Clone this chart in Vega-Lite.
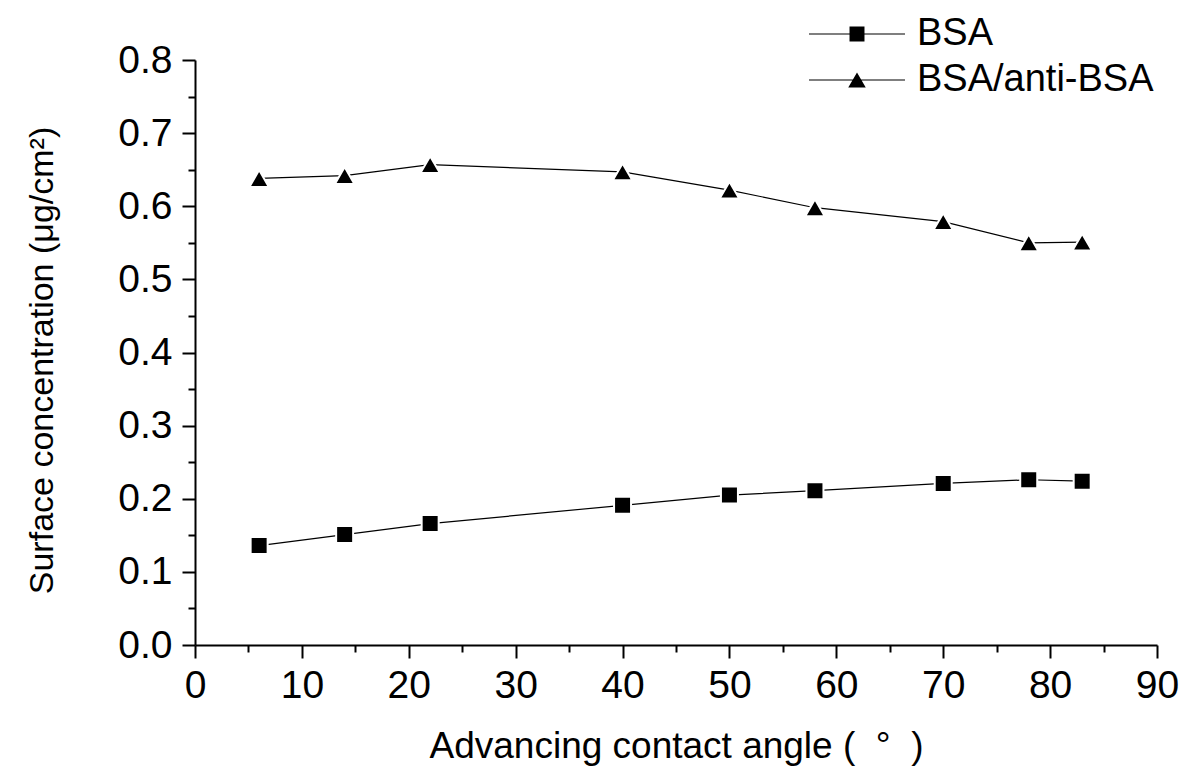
{
  "$schema": "https://vega.github.io/schema/vega-lite/v6.json",
  "width": 962,
  "height": 585,
  "autosize": {"type": "none"},
  "padding": {"left": 195, "top": 60, "right": 23, "bottom": 121},
  "background": "white",
  "config": {
    "font": "Liberation Sans",
    "view": {"stroke": null},
    "axis": {
      "grid": false,
      "domainColor": "black",
      "tickColor": "black",
      "labelColor": "black",
      "titleColor": "black",
      "domainWidth": 2,
      "tickWidth": 2,
      "labelFont": "Liberation Sans",
      "titleFont": "Liberation Sans",
      "titleFontWeight": "normal"
    }
  },
  "data": {
    "values": [
      {"series": "BSA", "angle": 6, "conc": 0.136},
      {"series": "BSA", "angle": 14, "conc": 0.151},
      {"series": "BSA", "angle": 22, "conc": 0.166},
      {"series": "BSA", "angle": 40, "conc": 0.191},
      {"series": "BSA", "angle": 50, "conc": 0.205},
      {"series": "BSA", "angle": 58, "conc": 0.211},
      {"series": "BSA", "angle": 70, "conc": 0.221},
      {"series": "BSA", "angle": 78, "conc": 0.226},
      {"series": "BSA", "angle": 83, "conc": 0.224},
      {"series": "BSA/anti-BSA", "angle": 6, "conc": 0.638},
      {"series": "BSA/anti-BSA", "angle": 14, "conc": 0.642},
      {"series": "BSA/anti-BSA", "angle": 22, "conc": 0.657},
      {"series": "BSA/anti-BSA", "angle": 40, "conc": 0.647},
      {"series": "BSA/anti-BSA", "angle": 50, "conc": 0.622},
      {"series": "BSA/anti-BSA", "angle": 58, "conc": 0.598},
      {"series": "BSA/anti-BSA", "angle": 70, "conc": 0.579},
      {"series": "BSA/anti-BSA", "angle": 78, "conc": 0.550},
      {"series": "BSA/anti-BSA", "angle": 83, "conc": 0.551}
    ]
  },
  "layer": [
    {
      "mark": {"type": "line", "color": "black", "strokeWidth": 1.2},
      "encoding": {
        "x": {
          "field": "angle", "type": "quantitative",
          "scale": {"domain": [0, 90], "nice": false, "zero": false},
          "axis": {
            "orient": "bottom",
            "values": [0, 10, 20, 30, 40, 50, 60, 70, 80, 90],
            "tickSize": 13,
            "labelFontSize": 39,
            "labelPadding": 8,
            "labelFlush": false,
            "labelOverlap": false,
            "title": "Advancing contact angle (\u00a0 °\u00a0 )",
            "titleFontSize": 37,
            "titleY": 112,
            "titleBaseline": "alphabetic"
          }
        },
        "y": {
          "field": "conc", "type": "quantitative",
          "scale": {"domain": [0, 0.8], "nice": false, "zero": false},
          "axis": {
            "orient": "left",
            "values": [0, 0.1, 0.2, 0.3, 0.4, 0.5, 0.6, 0.7, 0.8],
            "format": ".1f",
            "tickSize": 13,
            "labelFontSize": 39,
            "labelPadding": 10,
            "labelFlush": false,
            "labelOverlap": false,
            "title": "Surface concentration (μg/cm²)",
            "titleFontSize": 34,
            "titleAngle": -90,
            "titleX": -143,
            "titleY": 300,
            "titleAlign": "center",
            "titleBaseline": "alphabetic"
          }
        },
        "detail": {"field": "series"}
      }
    },
    {
      "transform": [{"filter": "datum.series === 'BSA'"}],
      "mark": {"type": "point", "shape": "square", "size": 289, "filled": true, "color": "black", "opacity": 1, "stroke": "white", "strokeWidth": 2},
      "encoding": {
        "x": {
          "field": "angle", "type": "quantitative",
          "scale": {"domain": [0, 90], "nice": false, "zero": false},
          "axis": {
            "orient": "bottom",
            "values": [5, 15, 25, 35, 45, 55, 65, 75, 85],
            "tickSize": 7,
            "labels": false,
            "domain": false,
            "title": null
          }
        },
        "y": {
          "field": "conc", "type": "quantitative",
          "scale": {"domain": [0, 0.8], "nice": false, "zero": false},
          "axis": {
            "orient": "left",
            "values": [0.05, 0.15, 0.25, 0.35, 0.45, 0.55, 0.65, 0.75],
            "tickSize": 7,
            "labels": false,
            "domain": false,
            "title": null
          }
        }
      }
    },
    {
      "transform": [{"filter": "datum.series === 'BSA/anti-BSA'"}],
      "mark": {"type": "point", "shape": "triangle-up", "size": 380, "filled": true, "color": "black", "opacity": 1, "stroke": "white", "strokeWidth": 2},
      "encoding": {
        "x": {"field": "angle", "type": "quantitative", "scale": {"domain": [0, 90], "nice": false, "zero": false}, "axis": null},
        "y": {"field": "conc", "type": "quantitative", "scale": {"domain": [0, 0.8], "nice": false, "zero": false}, "axis": null}
      }
    },
    {
      "mark": {"type": "point", "filled": true, "color": "black", "opacity": 0},
      "encoding": {
        "x": {"field": "angle", "type": "quantitative", "scale": {"domain": [0, 90], "nice": false, "zero": false}, "axis": null},
        "y": {"field": "conc", "type": "quantitative", "scale": {"domain": [0, 0.8], "nice": false, "zero": false}, "axis": null},
        "shape": {
          "field": "series", "type": "nominal",
          "scale": {
            "domain": ["BSA", "BSA/anti-BSA"],
            "range": [
              "M-1.846,-0.023H1.846V0.023H-1.846ZM-0.288,-0.288H0.288V0.288H-0.288Z",
              "M-1.846,-0.023H1.846V0.023H-1.846ZM0,-0.292L0.337,0.292L-0.337,0.292Z"
            ]
          },
          "legend": {
            "orient": "none",
            "legendX": 635,
            "legendY": -53,
            "title": null,
            "padding": 0,
            "symbolSize": 2704,
            "symbolFillColor": "black",
            "symbolOpacity": 1,
            "labelFontSize": 38,
            "labelFont": "Liberation Sans",
            "labelColor": "black",
            "labelOffset": 33,
            "labelLimit": 500,
            "rowPadding": 0
          }
        }
      }
    }
  ],
  "resolve": {
    "axis": {"x": "independent", "y": "independent"}
  }
}
